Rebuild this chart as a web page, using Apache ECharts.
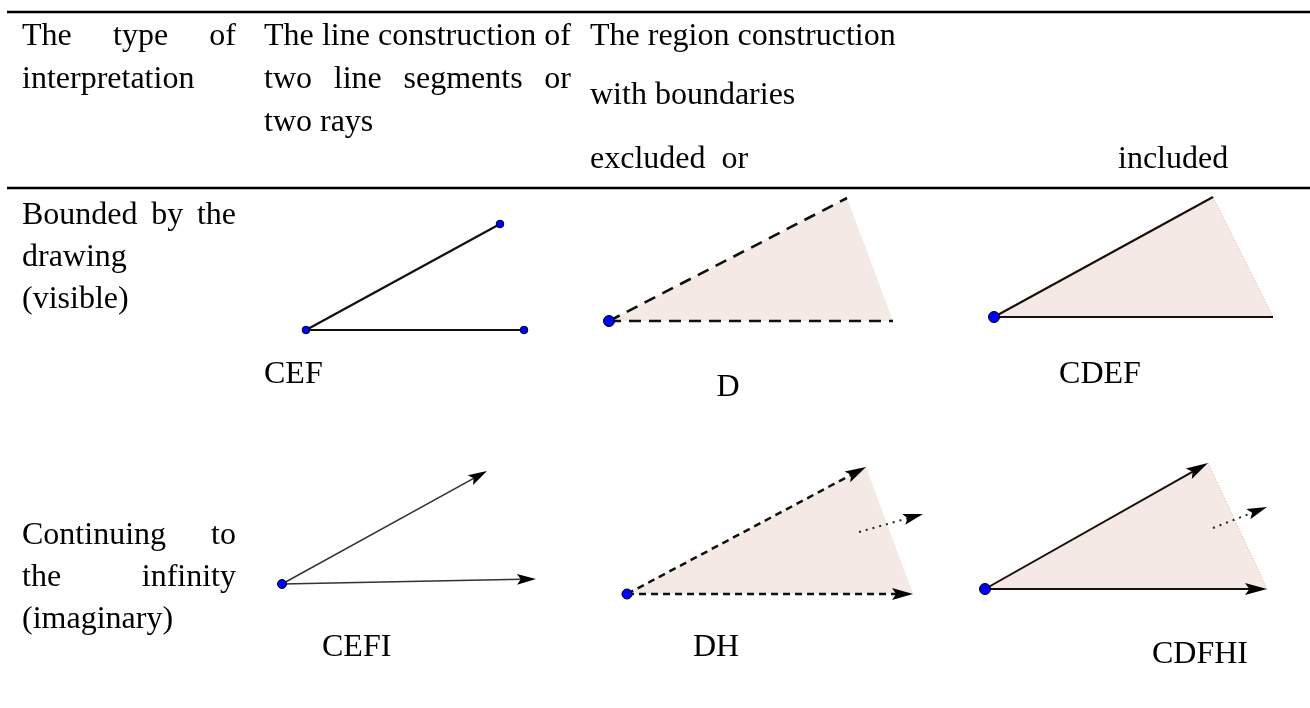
<!DOCTYPE html>
<html>
<head>
<meta charset="utf-8">
<script src="https://cdn.jsdelivr.net/npm/echarts@6.0.0/dist/echarts.min.js"></script>
<style>
html,body{margin:0;padding:0;background:#ffffff;}
#chart{width:1310px;height:708px;}
</style>
</head>
<body>
<div id="chart"></div>
<script>
// ---------------- data ----------------
const columnHeaders = [
  ['The type of', 'interpretation'],
  ['The line construction of', 'two line segments or', 'two rays'],
  ['The region construction', 'with boundaries', 'excluded  or']
];
const headerRightWord = 'included';
const rowHeaders = [
  ['Bounded by the', 'drawing', '(visible)'],
  ['Continuing to', 'the infinity', '(imaginary)']
];
const cellLabels = ['CEF', 'D', 'CDEF', 'CEFI', 'DH', 'CDFHI'];

// geometry of the six figures (values in the page coordinate system of the axes)
const vertexPoints = [[306, 330], [609, 321], [994, 317], [282, 584], [627, 594], [985, 589]];
const upperPoints  = [[500, 224], [847, 198], [1213, 197], [487, 471], [866, 467], [1208, 463]];
const lowerPoints  = [[524, 330], [893, 321], [1273, 317], [536, 579], [913, 594], [1267, 589]];
const dottedStarts = [null, null, null, null, [859, 532], [1213, 528]];
const dottedEnds   = [null, null, null, null, [923, 514], [1267, 507]];

// ---------------- layout / style ----------------
const FONT = "'Liberation Serif', 'Times New Roman', serif";
const FS = 32;
const colLeft = [22, 264, 590];
const colRight = [236, 571, null];
const headerLineY = [[37, 80], [37, 80, 123], [37, 96, 160]];
const headerJustify = [[true, false], [true, true, false], [false, false, false]];
const rightWordPos = [1118, 160];
const rowLineY = [[216, 258, 300], [536, 578, 620]];
const rowJustify = [[true, false, false], [true, true, false]];
const labelPos = [[264, 375, 'left'], [728, 388, 'center'], [1100, 375, 'center'],
                  [322, 648, 'left'], [716, 648, 'center'], [1200, 655, 'center']];
const ruleYs = [12, 188];
const ruleX = [7, 1310];
const FILL = '#f4e9e4';
const EDGE = '#e6a88a';
const styles = [
  {fill: false, dash: null,    arrows: false, endDots: true,  lw: 2.2, color: '#111', dotR: 3.8},
  {fill: true,  dash: [12, 8], arrows: false, endDots: false, lw: 2.6, color: '#111', dotR: 5.5},
  {fill: true,  dash: null,    arrows: false, endDots: false, lw: 2.0, color: '#1a0f08', dotR: 5.5, edge: true},
  {fill: false, dash: null,    arrows: true,  endDots: false, lw: 1.5, color: '#333', dotR: 4.5, aL: 19, aW: 5.5},
  {fill: true,  dash: [7, 5],  arrows: true,  endDots: false, lw: 2.5, color: '#111', dotR: 5, aL: 21, aW: 6},
  {fill: true,  dash: null,    arrows: true,  endDots: false, lw: 2.0, color: '#1a0f08', dotR: 5.5, edge: true, aL: 22, aW: 6}
];

// ---------------- text layout ----------------
const measureCtx = document.createElement('canvas').getContext('2d');
measureCtx.font = FS + 'px ' + FONT;
function tw(s) { return measureCtx.measureText(s).width; }

const textItems = [];
function pushLine(str, left, right, y, justify) {
  if (justify && right != null) {
    const words = str.split(' ').filter(w => w.length);
    const total = words.reduce((a, w) => a + tw(w), 0);
    const gap = words.length > 1 ? (right - left - total) / (words.length - 1) : 0;
    let x = left;
    words.forEach(w => { textItems.push({text: w, x: x, y: y, align: 'left'}); x += tw(w) + gap; });
  } else {
    textItems.push({text: str, x: left, y: y, align: 'left'});
  }
}
columnHeaders.forEach((lines, c) => lines.forEach((s, k) =>
  pushLine(s, colLeft[c], colRight[c], headerLineY[c][k], headerJustify[c][k])));
textItems.push({text: headerRightWord, x: rightWordPos[0], y: rightWordPos[1], align: 'left'});
rowHeaders.forEach((lines, r) => lines.forEach((s, k) =>
  pushLine(s, colLeft[0], colRight[0], rowLineY[r][k], rowJustify[r][k])));
cellLabels.forEach((s, i) => textItems.push({text: s, x: labelPos[i][0], y: labelPos[i][1], align: labelPos[i][2]}));

// ---------------- helpers ----------------
function unit(a, b) { const dx = b[0] - a[0], dy = b[1] - a[1]; const l = Math.hypot(dx, dy); return [dx / l, dy / l]; }
function back(from, to, d) { const u = unit(from, to); return [to[0] - u[0] * d, to[1] - u[1] * d]; }
function arrowHead(from, tip, L, W) {
  const u = unit(from, tip), p = [-u[1], u[0]];
  const b = [tip[0] - u[0] * L, tip[1] - u[1] * L];
  const n = [tip[0] - u[0] * L * 0.8, tip[1] - u[1] * L * 0.8];
  return [tip, [b[0] + p[0] * W, b[1] + p[1] * W], n, [b[0] - p[0] * W, b[1] - p[1] * W]];
}
function dot(c, r) {
  return {type: 'circle', shape: {cx: c[0], cy: c[1], r: r}, style: {fill: '#0000ff', stroke: '#000', lineWidth: 1}};
}

// ---------------- chart ----------------
const chart = echarts.init(document.getElementById('chart'), null, {renderer: 'canvas'});
chart.setOption({
  animation: false,
  backgroundColor: '#ffffff',
  grid: {left: 0, right: 0, top: 0, bottom: 0, containLabel: false},
  xAxis: {type: 'value', min: 0, max: 1310, show: false},
  yAxis: {type: 'value', min: 0, max: 708, inverse: true, show: false},
  series: [
    {
      type: 'custom', coordinateSystem: 'cartesian2d', silent: true, clip: false,
      data: ruleYs.map(y => [ruleX[0], y]),
      renderItem: function (params, api) {
        const a = api.coord([ruleX[0], api.value(1)]), b = api.coord([ruleX[1], api.value(1)]);
        return {type: 'line', shape: {x1: a[0], y1: a[1], x2: b[0], y2: b[1]}, style: {stroke: '#000', lineWidth: 2.5}};
      }
    },
    {
      type: 'custom', coordinateSystem: 'cartesian2d', silent: true, clip: false,
      data: vertexPoints,
      renderItem: function (params, api) {
        const i = params.dataIndex, st = styles[i];
        const v = api.coord(vertexPoints[i]), u = api.coord(upperPoints[i]), l = api.coord(lowerPoints[i]);
        const ch = [];
        if (st.fill) ch.push({type: 'polygon', shape: {points: [v, u, l]}, style: {fill: FILL}});
        if (st.edge) ch.push({type: 'line', shape: {x1: u[0], y1: u[1], x2: l[0], y2: l[1]},
                               style: {stroke: EDGE, lineWidth: 1, lineDash: [1, 2]}});
        [u, l].forEach(e => {
          const end = st.arrows ? back(v, e, st.aL * 0.75) : e;
          ch.push({type: 'line', shape: {x1: v[0], y1: v[1], x2: end[0], y2: end[1]},
                   style: {stroke: st.color, lineWidth: st.lw, lineDash: st.dash || null}});
          if (st.arrows) ch.push({type: 'polygon', shape: {points: arrowHead(v, e, st.aL, st.aW)}, style: {fill: '#000'}});
          if (st.endDots) ch.push(dot(e, st.dotR));
        });
        if (dottedStarts[i]) {
          const s = api.coord(dottedStarts[i]), t = api.coord(dottedEnds[i]);
          const end = back(s, t, 14);
          ch.push({type: 'line', shape: {x1: s[0], y1: s[1], x2: end[0], y2: end[1]},
                   style: {stroke: '#222', lineWidth: 2, lineDash: [2, 5]}});
          ch.push({type: 'polygon', shape: {points: arrowHead(s, t, 20, 5.5)}, style: {fill: '#000'}});
        }
        ch.push(dot(v, st.dotR));
        return {type: 'group', children: ch};
      }
    },
    {
      type: 'custom', coordinateSystem: 'cartesian2d', silent: true, clip: false,
      data: textItems.map(t => [t.x, t.y]),
      renderItem: function (params, api) {
        const t = textItems[params.dataIndex];
        const p = api.coord([api.value(0), api.value(1)]);
        return {type: 'text', x: p[0], y: p[1],
                style: {text: t.text, fill: '#000', fontSize: FS, fontFamily: FONT,
                        align: t.align, verticalAlign: 'middle'}};
      }
    }
  ]
});
</script>
</body>
</html>
